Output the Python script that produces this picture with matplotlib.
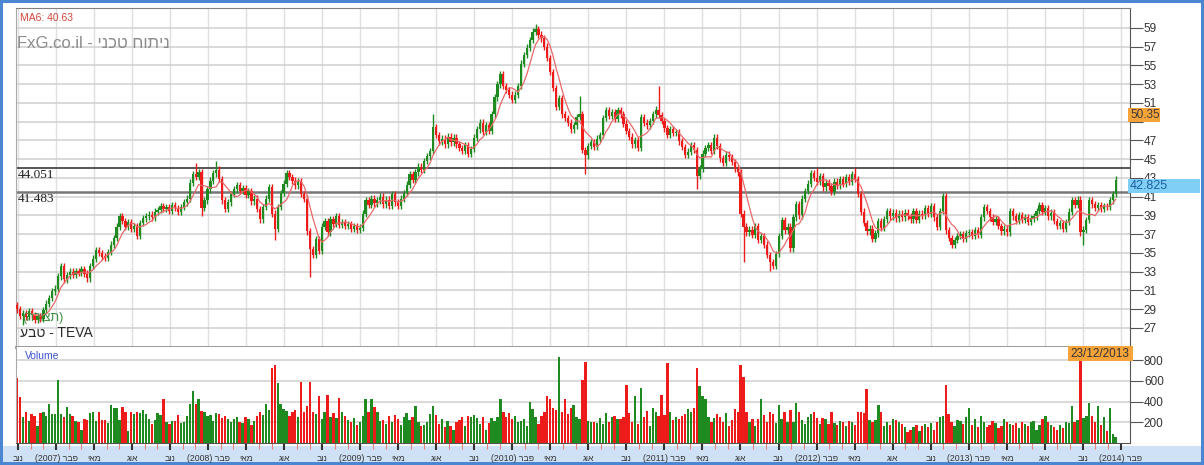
import numpy as np
import pandas as pd
import matplotlib
matplotlib.use('Agg')
import matplotlib.pyplot as plt
import matplotlib.transforms as mtransforms
from matplotlib.patches import Rectangle

plt.rcParams['font.family'] = ['Liberation Sans', 'DejaVu Sans']

# weekly closes, TEVA, Nov 2006 - Dec 2013
closes = [
    29.0, 28.3, 28.6, 28.2, 28.8, 28.4, 27.9, 28.3, 28.0, 28.9,   # 0
    29.6, 30.2, 30.9, 31.2, 32.5, 33.6, 32.2, 32.6, 33.0, 32.7,   # 10
    33.1, 32.9, 33.3, 32.8, 32.3, 33.6, 34.4, 35.3, 35.0, 34.6,   # 20
    34.5, 35.1, 35.9, 36.6, 37.8, 38.9, 38.4, 37.8, 38.3, 37.6,   # 30
    37.9, 36.8, 38.2, 38.7, 38.9, 39.1, 38.8, 39.4, 39.6, 40.0,   # 40
    39.7, 39.9, 39.5, 40.1, 39.8, 39.4, 39.9, 40.4, 40.8, 42.5,   # 50
    43.4, 43.1, 43.6, 39.8, 40.6, 41.8, 42.7, 43.5, 43.9, 42.9,   # 60
    40.6, 39.7, 40.4, 41.3, 41.8, 42.2, 41.6, 41.9, 41.2, 41.6,   # 70
    40.5, 40.8, 39.7, 38.6, 39.9, 40.8, 42.0, 39.2, 37.6, 39.9,   # 80
    41.4, 42.4, 43.5, 43.1, 42.7, 42.2, 42.6, 41.3, 40.8, 37.3,   # 90
    35.4, 34.8, 36.5, 35.2, 37.8, 38.4, 37.2, 38.6, 38.1, 38.9,   # 100
    38.0, 38.3, 37.9, 38.1, 37.6, 37.9, 37.5, 37.7, 39.2, 40.6,   # 110
    40.1, 40.8, 40.3, 40.6, 41.0, 40.2, 40.7, 40.0, 41.3, 40.4,   # 120
    40.0, 40.8, 41.4, 42.3, 43.4, 42.8, 43.6, 44.2, 43.9, 44.8,   # 130
    45.3, 45.9, 48.4, 47.6, 46.9, 47.2, 46.6, 47.4, 46.8, 47.3,   # 140
    46.6, 46.2, 45.9, 46.5, 45.6, 46.1, 47.3, 48.2, 48.9, 47.9,   # 150
    48.6, 48.0, 49.8, 51.6, 53.0, 54.1, 52.8, 52.4, 51.9, 51.3,   # 160
    51.9, 52.8, 55.2, 56.1, 56.9, 57.7, 58.6, 58.9, 58.3, 57.9,   # 170
    57.0, 55.8, 54.3, 52.6, 50.6, 51.5, 49.8, 49.4, 48.9, 48.2,   # 180
    48.6, 49.5, 49.8, 46.0, 45.4, 46.4, 46.8, 46.3, 47.2, 47.6,   # 190
    49.4, 50.2, 49.6, 50.0, 49.3, 50.2, 49.8, 48.8, 48.0, 47.4,   # 200
    46.6, 47.0, 46.2, 49.5, 48.9, 48.6, 49.1, 49.8, 50.3, 49.7,   # 210
    49.1, 48.3, 47.6, 48.2, 47.8, 47.9, 46.9, 46.3, 45.5, 45.8,   # 220
    46.5, 46.0, 43.2, 44.0, 45.6, 46.2, 46.5, 45.9, 47.3, 46.4,   # 230
    45.1, 44.6, 45.5, 45.2, 44.7, 44.0, 43.6, 39.2, 37.8, 37.2,   # 240
    37.5, 36.9, 37.9, 36.4, 36.8, 35.9, 34.8, 34.0, 33.6, 34.9,   # 250
    36.8, 38.5, 37.4, 37.8, 35.5, 38.8, 40.2, 39.0, 40.8, 41.6,   # 260
    42.4, 43.5, 43.0, 42.6, 43.2, 42.0, 42.5, 42.1, 41.5, 42.6,   # 270
    42.2, 42.9, 42.4, 43.1, 42.6, 43.4, 42.9, 41.3, 39.4, 38.2,   # 280
    37.3, 37.6, 36.5, 37.1, 38.4, 37.7, 38.6, 39.5, 38.9, 39.3,   # 290
    38.7, 39.2, 38.8, 39.3, 38.9, 38.6, 39.5, 38.5, 39.2, 39.0,   # 300
    39.8, 39.2, 40.0, 38.8, 37.8, 39.5, 41.1, 37.4, 36.6, 35.9,   # 310
    36.4, 36.8, 37.0, 36.5, 37.1, 37.2, 36.8, 37.4, 36.9, 38.8,   # 320
    39.9, 39.5, 38.8, 38.3, 38.6, 37.9, 37.3, 37.6, 37.2, 39.5,   # 330
    38.9, 38.4, 39.0, 38.5, 38.8, 38.3, 38.7, 38.9, 39.5, 40.1,   # 340
    39.4, 39.8, 38.9, 39.3, 38.4, 37.9, 38.2, 37.6, 38.3, 39.4,   # 350
    40.6, 40.1, 40.7, 37.2, 37.5, 38.5, 40.6, 40.2, 39.8, 40.1,   # 360
    39.7, 40.0, 39.9, 40.6, 41.3, 42.825,                         # 370
]
first_open = 29.4

# weekly volume (thousands)
volume = [
    630, 440, 250, 300, 215, 275, 260, 165, 290, 300,
    260, 380, 280, 280, 610, 280, 250, 350, 280, 260,
    210, 200, 130, 230, 225, 290, 300, 210, 300, 220,
    220, 190, 370, 340, 340, 220, 350, 300, 120, 300,
    280, 300, 290, 320, 280, 230, 180, 220, 290, 270,
    420, 200, 180, 210, 210, 270, 190, 200, 260, 380,
    500, 380, 420, 310, 300, 260, 270, 210, 290, 280,
    240, 260, 230, 200, 230, 250, 200, 190, 250, 230,
    170, 210, 260, 300, 270, 380, 320, 720, 750, 580,
    380, 330, 310, 260, 300, 320, 250, 590, 300, 360,
    590, 300, 280, 450, 230, 300, 460, 250, 290, 240,
    430, 300, 260, 220, 200, 240, 170, 200, 260, 420,
    300, 420, 350, 300, 210, 220, 180, 260, 200, 270,
    230, 170, 250, 290, 220, 250, 355, 200, 160, 170,
    200, 280, 355, 270, 180, 230, 150, 210, 160, 130,
    200, 220, 250, 160, 260, 250, 270, 240, 180, 250,
    130, 190, 240, 210, 250, 420, 300, 250, 290, 230,
    260, 200, 210, 230, 160, 400, 330, 250, 180, 260,
    300, 450, 420, 340, 320, 830, 300, 420, 280, 340,
    370, 250, 230, 610, 785, 210, 200, 200, 190, 240,
    180, 290, 200, 250, 260, 230, 230, 250, 560, 290,
    200, 450, 180, 530, 250, 310, 160, 340, 300, 260,
    460, 270, 775, 300, 220, 250, 230, 260, 280, 330,
    300, 340, 720, 545, 450, 420, 250, 200, 240, 280,
    250, 200, 290, 160, 220, 330, 300, 750, 640, 300,
    200, 230, 160, 230, 420, 270, 200, 300, 280, 190,
    370, 230, 300, 200, 320, 200, 390, 300, 220, 180,
    250, 280, 300, 240, 180, 240, 230, 180, 300, 190,
    170, 210, 200, 160, 210, 200, 170, 300, 300, 290,
    520, 220, 200, 220, 370, 300, 160, 200, 170, 230,
    220, 200, 180, 150, 110, 130, 150, 170, 120, 160,
    180, 150, 190, 130, 200, 250, 260, 560, 280, 200,
    160, 220, 210, 180, 250, 340, 170, 230, 150, 260,
    200, 150, 170, 210, 190, 140, 160, 230, 200, 180,
    170, 190, 140, 200, 180, 160, 200, 210, 130, 170,
    230, 260, 200, 170, 150, 130, 170, 140, 200, 190,
    355, 200, 220, 800, 240, 260, 390, 260, 200, 355,
    170, 250, 120, 340, 85, 60,
]

# long wicks that stick out (week index -> price)
wick_hi = {61: 44.6, 68: 44.8, 142: 49.8, 177: 59.4, 192: 51.7, 219: 52.8, 273: 44.1, 286: 44.1}
wick_lo = {2: 27.3, 63: 38.9, 88: 36.4, 100: 32.4, 194: 43.4, 232: 41.8, 248: 34.0,
           257: 33.1, 319: 35.5, 364: 35.8}

levels = [44.051, 41.483]
months = ['נוב', 'פבר', 'מאי', 'אוג']
first_year = 2007
n_quarters = 30


def heb(s):
    # no bidi in matplotlib -> feed hebrew in visual order
    return s[::-1]


W, H = 1204, 465
GREEN = '#1f8a1f'
RED = '#ee1b1b'


def frect(x0, y0, x1, y1):
    # pixel box measured from top-left -> figure fractions
    return [x0 / W, 1 - y1 / H, (x1 - x0) / W, (y1 - y0) / H]


def fbox(x0, y0, x1, y1, color):
    r = frect(x0, y0, x1, y1)
    fig.add_artist(Rectangle((r[0], r[1]), r[2], r[3], transform=fig.transFigure,
                             facecolor=color, edgecolor='none', zorder=20))


def ftext(px, py, s, **kw):
    fig.text(px / W, 1 - py / H, s, zorder=21, **kw)


fig = plt.figure(figsize=(W / 100, H / 100), dpi=100, facecolor='#4a86d2')
r = frect(3, 3, 1201, 446)
fig.add_artist(Rectangle((r[0], r[1]), r[2], r[3], transform=fig.transFigure,
                         facecolor='white', edgecolor='none', zorder=-5))
r = frect(3, 446, 1201, 462)
fig.add_artist(Rectangle((r[0], r[1]), r[2], r[3], transform=fig.transFigure,
                         facecolor='#cfe2f5', edgecolor='none', zorder=-5))

ax = fig.add_axes(frect(16, 8, 1130, 347))
av = fig.add_axes(frect(16, 347, 1130, 443), sharex=ax)

c = np.array(closes)
o = np.r_[first_open, c[:-1]]
x = np.arange(len(c))
up = c >= o
colors = np.where(up, GREEN, RED)

hi = np.maximum(o, c) + 0.35
lo = np.minimum(o, c) - 0.35
for i, v in wick_hi.items():
    hi[i] = v
for i, v in wick_lo.items():
    lo[i] = v

ax.vlines(x, lo, hi, colors=colors, lw=1.0, zorder=3)
ax.bar(x, np.maximum(np.abs(c - o), 0.15), bottom=np.minimum(o, c), width=0.78,
       color=colors, lw=0, zorder=4)

ma6 = pd.Series(c).rolling(6).mean()
ax.plot(x, ma6, color='#e8686a', lw=0.9, zorder=5)

blend = mtransforms.blended_transform_factory(ax.transAxes, ax.transData)
for lv, col, lw in zip(levels, ['#3a3a3a', '#777777'], [1.2, 1.8]):
    ax.axhline(lv, color=col, lw=lw, zorder=2)
    ax.text(0.002, lv - 0.72, f'{lv:.3f}', transform=blend, va='center', ha='left',
            fontsize=9.5, family=['Liberation Serif', 'DejaVu Serif'], color='#222222')

ax.set_ylim(24.97, 61.13)
ax.set_xlim(-0.34, 379.9)
ax.yaxis.tick_right()
ax.set_yticks(range(27, 60, 2))
# 49 sits under the 50.35 marker box
ax.set_yticklabels(['' if v == 49 else str(v) for v in range(27, 60, 2)])
ax.tick_params(axis='y', length=9, width=0.8, color='#555555', labelsize=8.5,
               labelcolor='#333333', pad=1)
ax.tick_params(axis='x', which='both', length=0, labelbottom=False)
ax.grid(True, axis='y', color='#d0d0d0', lw=1.1)
ax.grid(True, axis='x', color='#e0e0e0', lw=1.0)
ax.set_axisbelow(True)
ax.spines['left'].set_color('#a8a8a8')
ax.spines['top'].set_color('#808080')
ax.spines['right'].set_color('#555555')
ax.spines['bottom'].set_color('#909090')
ax.spines['bottom'].set_linewidth(2)

# volume panel
av.bar(x, volume, width=0.8, color=colors, lw=0)
av.set_ylim(0, 926)
av.yaxis.tick_right()
av.set_yticks([200, 400, 600, 800])
av.tick_params(axis='y', length=9, width=0.8, color='#555555', labelsize=8.5,
               labelcolor='#333333', pad=1)
av.grid(True, axis='y', color='#d0d0d0', lw=1.1)
av.set_axisbelow(True)
av.spines['top'].set_visible(False)
av.spines['left'].set_color('#a8a8a8')
av.spines['right'].set_color('#555555')
av.spines['bottom'].set_color('#555555')

tick_pos = [(1 + 38.03 * k) / 2.93 for k in range(n_quarters)]
minor_pos = [(1 + 38.03 * k / 3) / 2.93 for k in range(n_quarters * 3 - 2) if k % 3]
tick_lab = []
for k in range(n_quarters):
    m = months[k % 4]
    if k % 4 == 1:
        tick_lab.append(f'({first_year + k // 4}) ' + heb(m))
    else:
        tick_lab.append(heb(m))
av.set_xticks(tick_pos)
av.set_xticklabels(tick_lab)
av.set_xticks(minor_pos, minor=True)
av.tick_params(axis='x', which='major', length=5, width=1.5, color='#333333',
               labelsize=6.3, labelcolor='#333333', pad=3)
av.tick_params(axis='x', which='minor', length=4, width=0.8, color='#f08080')

# texts
ftext(20, 18, 'MA6: 40.63', fontsize=7.5, color='#d2453c', va='center')
ftext(17, 43, 'FxG.co.il - ' + heb('ניתוח טכני'), fontsize=12, color='#8c8c8c', va='center')
ftext(22, 318, '(' + heb('תצורה') + ')', fontsize=9, color='#3f8f3f', va='center')
ftext(20, 333, heb('טבע') + ' - TEVA', fontsize=10, color='#2a2a2a', va='center')
ftext(25, 356, 'Volume', fontsize=7.5, color='#3c4fd0', va='center')

fbox(1128, 108, 1160, 122, '#f6a43a')
ftext(1130, 115, '50.35', fontsize=8.5, color='#3a3a3a', va='center')
fbox(1128, 179, 1200, 193, '#7fcff7')
ftext(1130, 186, '42.825', fontsize=9, color='#1d5f9e', va='center')
fbox(1068, 346, 1133, 361, '#f6a43a')
ftext(1100, 353.5, '23/12/2013', fontsize=8.5, color='#333333', va='center', ha='center')

fig.savefig('out.png', dpi=100, facecolor=fig.get_facecolor())
